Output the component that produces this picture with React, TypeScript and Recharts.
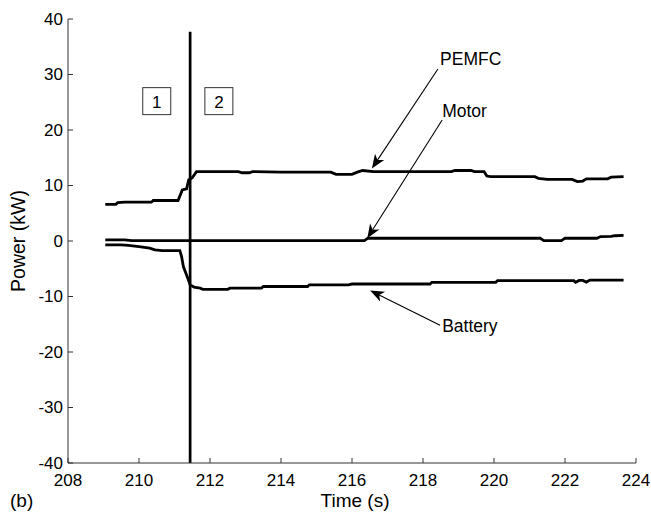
import React from 'react';
import { LineChart, Line, XAxis, YAxis, ReferenceLine, ReferenceDot } from 'recharts';

// ---- data ----
const xTicks = [208, 210, 212, 214, 216, 218, 220, 222, 224];
const yTicks = [-40, -30, -20, -10, 0, 10, 20, 30, 40];

const pemfcTime = [209.05, 209.35, 209.4, 209.6, 210.35, 210.4, 211.1, 211.22, 211.34, 211.4, 211.5, 211.62, 212.8, 212.9, 213.1, 213.2, 214.0, 215.4, 215.55, 216.0, 216.15, 216.3, 216.6, 218.8, 218.9, 219.35, 219.45, 219.72, 219.8, 219.9, 221.15, 221.25, 221.5, 222.2, 222.35, 222.5, 222.6, 223.2, 223.3, 223.65];
const pemfcPower = [6.6, 6.6, 6.9, 7.0, 7.0, 7.3, 7.3, 9.2, 9.4, 11.0, 11.4, 12.5, 12.5, 12.3, 12.3, 12.5, 12.4, 12.4, 12.0, 12.0, 12.4, 12.7, 12.5, 12.5, 12.7, 12.7, 12.5, 12.5, 11.7, 11.6, 11.6, 11.3, 11.1, 11.1, 10.7, 10.8, 11.2, 11.2, 11.5, 11.6];

const motorTime = [209.05, 209.6, 209.8, 216.35, 216.45, 221.3, 221.4, 221.9, 222.0, 222.9, 223.0, 223.3, 223.4, 223.65];
const motorPower = [0.2, 0.2, 0.05, 0.05, 0.5, 0.5, 0.05, 0.05, 0.5, 0.5, 0.8, 0.85, 0.95, 1.0];

const batteryTime = [209.05, 209.5, 209.7, 210.0, 210.3, 210.45, 210.65, 211.15, 211.2, 211.25, 211.39, 211.44, 211.55, 211.72, 211.8, 212.5, 212.56, 213.45, 213.5, 214.75, 214.8, 215.9, 216.0, 218.2, 218.25, 220.05, 220.1, 222.25, 222.3, 222.4, 222.5, 222.6, 222.7, 223.65];
const batteryPower = [-0.7, -0.7, -0.8, -1.0, -1.3, -1.6, -1.75, -1.75, -2.8, -4.6, -7.0, -7.9, -8.3, -8.5, -8.7, -8.7, -8.5, -8.5, -8.2, -8.2, -7.9, -7.9, -7.75, -7.75, -7.45, -7.45, -7.15, -7.15, -7.45, -7.1, -7.1, -7.4, -7.05, -7.05];

const toRows = (t: number[], v: number[]) => t.map((x, i) => ({ t: x, v: v[i] }));
const pemfcData = toRows(pemfcTime, pemfcPower);
const motorData = toRows(motorTime, motorPower);
const batteryData = toRows(batteryTime, batteryPower);

// annotations
const switchTime = 211.44;
const switchTop = 37.7;
const phaseLabels = [
  { t: 210.5, v: 25.2, text: '1' },
  { t: 212.25, v: 25.2, text: '2' },
];
const seriesLabels = [
  { text: 'PEMFC', t: 218.48, v: 32.8, fromT: 218.42, fromV: 31.0, toT: 216.56, toV: 13.06 },
  { text: 'Motor', t: 218.54, v: 23.4, fromT: 218.54, fromV: 21.8, toT: 216.43, toV: 0.49 },
  { text: 'Battery', t: 218.54, v: -15.3, fromT: 218.48, fromV: -15.2, toT: 216.51, toV: -8.9 },
];

const FONT = '"Liberation Sans", Arial, Helvetica, sans-serif';
const AXIS = '#333';
const INK = '#000';

const BottomTick = (p: any) => {
  const { x, y, payload } = p;
  return (
    <g>
      <line x1={x} y1={y} x2={x} y2={y - 5} stroke={AXIS} strokeWidth={1} />
      <text x={x} y={y + 17} textAnchor="middle" dominantBaseline="central" fontSize={17} fontFamily={FONT} fill="#000">
        {payload.value}
      </text>
    </g>
  );
};
const TopTick = (p: any) => {
  const { x, y } = p;
  return <line x1={x} y1={y} x2={x} y2={y + 5} stroke={AXIS} strokeWidth={1} />;
};
const LeftTick = (p: any) => {
  const { x, y, payload } = p;
  return (
    <g>
      <line x1={x} y1={y} x2={x + 5} y2={y} stroke={AXIS} strokeWidth={1} />
      <text x={x - 5} y={y} textAnchor="end" dominantBaseline="central" fontSize={17} fontFamily={FONT} fill="#000">
        {payload.value}
      </text>
    </g>
  );
};
const RightTick = (p: any) => {
  const { x, y } = p;
  return <line x1={x} y1={y} x2={x - 5} y2={y} stroke={AXIS} strokeWidth={1} />;
};

const YLabel = (p: any) => {
  const vb = p.viewBox || { x: 0, y: 19, width: 68, height: 444 };
  const cx = vb.x + 18;
  const cy = vb.y + vb.height / 2;
  return (
    <text x={cx} y={cy} transform={`rotate(-90 ${cx} ${cy})`} textAnchor="middle" dominantBaseline="central" fontSize={19.5} fontFamily={FONT} fill="#000">
      Power (kW)
    </text>
  );
};
const XLabel = (p: any) => {
  const vb = p.viewBox || { x: 68, y: 463, width: 568, height: 53 };
  return (
    <g>
      <text x={vb.x + vb.width / 2 + 3} y={vb.y + 37} textAnchor="middle" dominantBaseline="central" fontSize={19} fontFamily={FONT} fill="#000">
        Time (s)
      </text>
      <text x={vb.x - 58} y={vb.y + 37} textAnchor="start" dominantBaseline="central" fontSize={19} fontFamily={FONT} fill="#000">
        (b)
      </text>
    </g>
  );
};

const ArrowShape = (p: any) => {
  const { x1, y1, x2, y2 } = p;
  const dx = x2 - x1;
  const dy = y2 - y1;
  const L = Math.hypot(dx, dy) || 1;
  const ux = dx / L;
  const uy = dy / L;
  const nx = -uy;
  const ny = ux;
  const len = 14;
  const w = 5.5;
  const bx = x2 - ux * len;
  const by = y2 - uy * len;
  const mx = x2 - ux * len * 0.72;
  const my = y2 - uy * len * 0.72;
  return (
    <g>
      <line x1={x1} y1={y1} x2={mx} y2={my} stroke={INK} strokeWidth={1.1} />
      <polygon points={`${x2},${y2} ${bx + nx * w},${by + ny * w} ${mx},${my} ${bx - nx * w},${by - ny * w}`} fill={INK} />
    </g>
  );
};

const makeTextShape = (text: string) => (p: any) => (
  <text x={p.cx} y={p.cy} textAnchor="start" dominantBaseline="central" fontSize={17.5} fontFamily={FONT} fill="#000">
    {text}
  </text>
);
const makeBoxShape = (text: string) => (p: any) => (
  <g>
    <rect x={p.cx - 14} y={p.cy - 13.5} width={28} height={27} fill="#fff" stroke={AXIS} strokeWidth={1} />
    <text x={p.cx} y={p.cy + 1} textAnchor="middle" dominantBaseline="central" fontSize={17} fontFamily={FONT} fill="#000">
      {text}
    </text>
  </g>
);

export default function App() {
  return (
    <div style={{ position: 'absolute', left: 0, top: 0, width: 651, height: 516, background: '#fff' }}>
      <LineChart width={651} height={516} margin={{ top: 19, right: 15, bottom: 0, left: 0 }}>
        <XAxis
          xAxisId={0}
          dataKey="t"
          type="number"
          domain={[208, 224]}
          ticks={xTicks}
          interval={0}
          allowDataOverflow
          height={53}
          tickSize={0}
          tickMargin={0}
          tickLine={false}
          tick={<BottomTick />}
          axisLine={{ stroke: AXIS, strokeWidth: 1 }}
          label={<XLabel />}
        />
        <XAxis
          xAxisId="top"
          orientation="top"
          type="number"
          domain={[208, 224]}
          ticks={xTicks}
          interval={0}
          allowDataOverflow
          height={0}
          tickSize={0}
          tickMargin={0}
          tickLine={false}
          tick={<TopTick />}
          axisLine={{ stroke: AXIS, strokeWidth: 1 }}
        />
        <YAxis
          yAxisId={0}
          type="number"
          domain={[-40, 40]}
          ticks={yTicks}
          interval={0}
          allowDataOverflow
          width={68}
          tickSize={0}
          tickMargin={0}
          tickLine={false}
          tick={<LeftTick />}
          axisLine={{ stroke: AXIS, strokeWidth: 1 }}
          label={<YLabel />}
        />
        <YAxis
          yAxisId="right"
          orientation="right"
          type="number"
          domain={[-40, 40]}
          ticks={yTicks}
          interval={0}
          allowDataOverflow
          width={0}
          tickSize={0}
          tickMargin={0}
          tickLine={false}
          tick={<RightTick />}
          axisLine={{ stroke: AXIS, strokeWidth: 1 }}
        />

        <Line data={pemfcData} dataKey="v" name="PEMFC" stroke={INK} strokeWidth={2.8} dot={false} activeDot={false} isAnimationActive={false} />
        <Line data={motorData} dataKey="v" name="Motor" stroke={INK} strokeWidth={2.8} dot={false} activeDot={false} isAnimationActive={false} />
        <Line data={batteryData} dataKey="v" name="Battery" stroke={INK} strokeWidth={2.8} dot={false} activeDot={false} isAnimationActive={false} />

        <ReferenceLine
          segment={[{ x: switchTime, y: switchTop }, { x: switchTime, y: -40 }]}
          stroke={INK}
          strokeWidth={2.7}
          ifOverflow="visible"
        />

        {phaseLabels.map((b) => (
          <ReferenceDot key={b.text} x={b.t} y={b.v} r={1} ifOverflow="visible" shape={makeBoxShape(b.text)} />
        ))}

        {seriesLabels.map((s) => (
          <ReferenceLine
            key={'a' + s.text}
            segment={[{ x: s.fromT, y: s.fromV }, { x: s.toT, y: s.toV }]}
            ifOverflow="visible"
            shape={ArrowShape}
          />
        ))}
        {seriesLabels.map((s) => (
          <ReferenceDot key={'t' + s.text} x={s.t} y={s.v} r={1} ifOverflow="visible" shape={makeTextShape(s.text)} />
        ))}
      </LineChart>
    </div>
  );
}
